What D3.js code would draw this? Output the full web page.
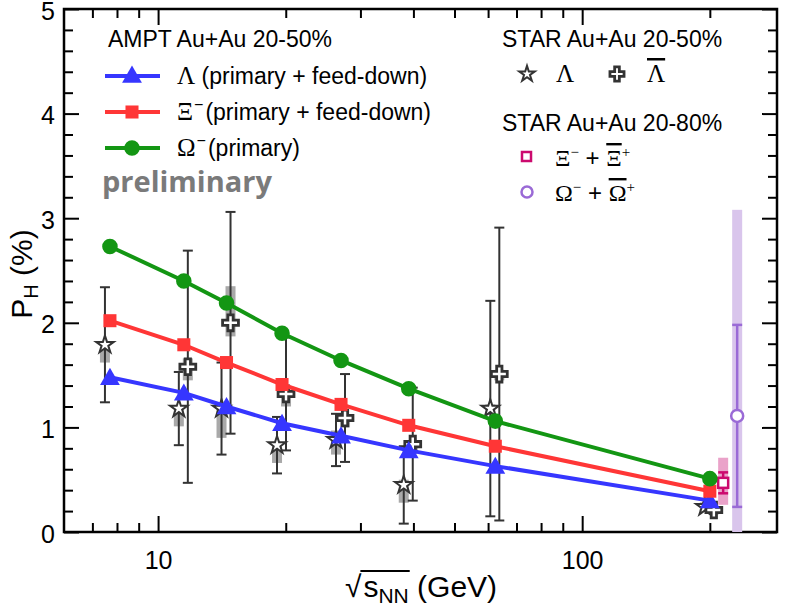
<!DOCTYPE html>
<html>
<head>
<meta charset="utf-8">
<script src="https://cdn.jsdelivr.net/npm/d3@7"></script>
<style>
  body { margin: 0; background: #fff; }
  svg text { font-family: "Liberation Sans", Arial, sans-serif; }
  .serif { font-family: "Liberation Serif", "DejaVu Serif", serif; }
</style>
</head>
<body>
<script>
// collision energies (GeV)
var energies = [7.7, 11.5, 14.5, 19.6, 27, 39, 62.4, 200];

// AMPT Au+Au 20-50%
var amptLambda = [1.48, 1.33, 1.20, 1.04, 0.92, 0.78, 0.63, 0.30];
var amptXi     = [2.02, 1.79, 1.62, 1.41, 1.22, 1.02, 0.82, 0.39];
var amptOmega  = [2.73, 2.40, 2.19, 1.90, 1.64, 1.37, 1.06, 0.51];

// STAR Au+Au 20-50% Lambda
var starLamE    = [7.7, 11.5, 14.5, 19.6, 27, 39, 62.4, 200];
var starLam     = [1.79, 1.18, 1.18, 0.83, 0.88, 0.45, 1.18, 0.24];
var starLamStat = [0.55, 0.35, 0.44, 0.27, 0.25, 0.37, 1.03, 0.03];
var starLamSysLo = [1.62, 1.01, 0.90, 0.66, 0.74, 0.28, 1.12, 0.22];
var starLamSysHi = [1.77, 1.17, 1.17, 0.85, 0.97, 0.50, 1.22, 0.26];

// STAR Au+Au 20-50% anti-Lambda
var starALamE    = [11.5, 14.5, 19.6, 27, 39, 62.4, 200];
var starALam     = [1.58, 2.00, 1.32, 1.09, 0.84, 1.51, 0.21];
var starALamStat = [1.11, 1.06, 0.54, 0.42, 0.54, 1.40, 0.03];
var starALamSysLo = [1.45, 1.87, 1.20, 1.00, 0.78, 1.45, 0.19];
var starALamSysHi = [1.66, 2.35, 1.34, 1.12, 0.86, 1.55, 0.23];

// STAR Au+Au 20-80% Xi and Omega (drawn slightly offset from 200 GeV)
var starXi = { e: 215, v: 0.47, stat: 0.10, sysLo: 0.26, sysHi: 0.71 };
var starOm = { e: 232, v: 1.11, stat: 0.87, sysLo: 0.0, sysHi: 3.08 };

var majorX = [10, 100];
var minorX = [7, 8, 9, 20, 30, 40, 50, 60, 70, 80, 90, 200];
var majorY = [0, 1, 2, 3, 4, 5];
var minorY = d3.range(0.2, 5, 0.2).filter(function (v) { return Math.abs(v - Math.round(v)) > 0.01; });

var W = 789, H = 607;
var plot = { left: 64, right: 777, top: 9, bottom: 532 };

var blue = "#3636ff", red = "#ff3636", green = "#139613", ink = "#333";

var svg = d3.select("body").append("svg")
    .attr("width", W)
    .attr("height", H);

var x = d3.scaleLog().domain([6, 288]).range([plot.left, plot.right]);
var y = d3.scaleLinear().domain([0, 5]).range([plot.bottom, plot.top]);

svg.append("clipPath").attr("id", "clip")
    .append("rect")
    .attr("x", plot.left).attr("y", plot.top)
    .attr("width", plot.right - plot.left)
    .attr("height", plot.bottom - plot.top);

// axes, ticks pointing inwards
function axisGroup(axis, tx, ty) {
    var g = svg.append("g")
        .attr("transform", "translate(" + tx + "," + ty + ")")
        .call(axis);
    g.select(".domain").remove();
    g.selectAll("line").attr("stroke", "#000").attr("stroke-width", 2);
    g.selectAll("text").attr("font-size", 25).attr("fill", "#000")
        .style("font-family", "'Liberation Sans', Arial, sans-serif");
    return g;
}
var fmt = function (d) { return d; };
axisGroup(d3.axisBottom(x).tickValues(majorX).tickSize(-16).tickPadding(19).tickFormat(fmt), 0, plot.bottom);
axisGroup(d3.axisBottom(x).tickValues(minorX).tickSize(-9).tickFormat(""), 0, plot.bottom);
axisGroup(d3.axisTop(x).tickValues(majorX).tickSize(-16).tickFormat(""), 0, plot.top);
axisGroup(d3.axisTop(x).tickValues(minorX).tickSize(-9).tickFormat(""), 0, plot.top);
axisGroup(d3.axisLeft(y).tickValues(majorY).tickSize(-15).tickPadding(9).tickFormat(fmt), plot.left, 0)
    .selectAll("text").attr("dy", "0.40em");
axisGroup(d3.axisLeft(y).tickValues(minorY).tickSize(-9).tickFormat(""), plot.left, 0);
axisGroup(d3.axisRight(y).tickValues(majorY).tickSize(-15).tickFormat(""), plot.right, 0);
axisGroup(d3.axisRight(y).tickValues(minorY).tickSize(-9).tickFormat(""), plot.right, 0);

svg.append("rect")
    .attr("x", plot.left).attr("y", plot.top)
    .attr("width", plot.right - plot.left)
    .attr("height", plot.bottom - plot.top)
    .attr("fill", "none").attr("stroke", "#000").attr("stroke-width", 2.5);

// axis titles
var yt = svg.append("text")
    .attr("transform", "translate(32,274) rotate(-90)")
    .attr("text-anchor", "middle")
    .attr("font-size", 30);
yt.append("tspan").text("P");
yt.append("tspan").attr("font-size", 20).attr("dy", 6).text("H");
yt.append("tspan").attr("dy", -6).text(" (%)");

var xt = svg.append("g").attr("transform", "translate(421,597)");
var xtText = xt.append("text").attr("font-size", 30).attr("text-anchor", "middle");
xtText.append("tspan").text("\u221A");
xtText.append("tspan").attr("dx", 2).text("s");
xtText.append("tspan").attr("font-size", 21).attr("dy", 6).text("NN");
xtText.append("tspan").attr("dy", -6).text(" (GeV)");
// overline of the radical over s_NN
(function () {
    var n = xtText.node();
    var start = n.getStartPositionOfChar(1).x;
    var end = n.getEndPositionOfChar(3).x;
    xt.append("line")
        .attr("x1", start - 3).attr("x2", end + 1)
        .attr("y1", -26).attr("y2", -26)
        .attr("stroke", "#000").attr("stroke-width", 1.8);
})();

var data = svg.append("g").attr("clip-path", "url(#clip)");

// STAR systematic boxes and stat error bars
function starSeries(E, V, S, LO, HI, dx) {
    var pts = E.map(function (e, i) {
        return { e: e, v: V[i], s: S[i], lo: LO[i], hi: HI[i] };
    });
    data.selectAll(null).data(pts).enter().append("rect")
        .attr("x", function (d) { return x(d.e) + dx - 5; })
        .attr("width", 10)
        .attr("y", function (d) { return y(d.hi); })
        .attr("height", function (d) { return y(d.lo) - y(d.hi); })
        .attr("fill", "#8c8c8c").attr("opacity", 0.75);
    var eb = data.selectAll(null).data(pts).enter().append("g")
        .attr("stroke", ink).attr("stroke-width", 2);
    eb.append("line")
        .attr("x1", function (d) { return x(d.e) + dx; })
        .attr("x2", function (d) { return x(d.e) + dx; })
        .attr("y1", function (d) { return y(d.v + d.s); })
        .attr("y2", function (d) { return y(d.v - d.s); });
    [1, -1].forEach(function (k) {
        eb.append("line")
            .attr("x1", function (d) { return x(d.e) + dx - 5; })
            .attr("x2", function (d) { return x(d.e) + dx + 5; })
            .attr("y1", function (d) { return y(d.v + k * d.s); })
            .attr("y2", function (d) { return y(d.v + k * d.s); });
    });
    return pts;
}
var lamPts = starSeries(starLamE, starLam, starLamStat, starLamSysLo, starLamSysHi, -5);
var alamPts = starSeries(starALamE, starALam, starALamStat, starALamSysLo, starALamSysHi, 4);

// Xi and Omega (STAR 20-80%)
function bigPoint(p, col, boxCol) {
    data.append("rect")
        .attr("x", x(p.e) - 5).attr("width", 10)
        .attr("y", y(p.sysHi)).attr("height", y(p.sysLo) - y(p.sysHi))
        .attr("fill", boxCol);
    var g = data.append("g").attr("stroke", col).attr("stroke-width", 2.5);
    g.append("line").attr("x1", x(p.e)).attr("x2", x(p.e))
        .attr("y1", y(p.v + p.stat)).attr("y2", y(p.v - p.stat));
    [1, -1].forEach(function (k) {
        g.append("line").attr("x1", x(p.e) - 5).attr("x2", x(p.e) + 5)
            .attr("y1", y(p.v + k * p.stat)).attr("y2", y(p.v + k * p.stat));
    });
}
bigPoint(starOm, "#9a6ad6", "#d9c5ec");
bigPoint(starXi, "#cc0a6e", "#eaa2c9");

var star = d3.symbol().type(d3.symbolStar).size(95);
var cross = d3.symbol().type(d3.symbolCross).size(140);

data.selectAll(null).data(lamPts).enter().append("path")
    .attr("d", star)
    .attr("transform", function (d) { return "translate(" + (x(d.e) - 5) + "," + y(d.v) + ")"; })
    .attr("fill", "#fff").attr("stroke", ink).attr("stroke-width", 2);
data.selectAll(null).data(alamPts).enter().append("path")
    .attr("d", cross)
    .attr("transform", function (d) { return "translate(" + (x(d.e) + 4) + "," + y(d.v) + ")"; })
    .attr("fill", "#fff").attr("stroke", ink).attr("stroke-width", 2.8);

data.append("rect")
    .attr("x", x(starXi.e) - 5).attr("y", y(starXi.v) - 5)
    .attr("width", 10).attr("height", 10)
    .attr("fill", "#fff").attr("stroke", "#cc0a6e").attr("stroke-width", 2.5);
data.append("circle")
    .attr("cx", x(starOm.e)).attr("cy", y(starOm.v)).attr("r", 6)
    .attr("fill", "#fff").attr("stroke", "#9a6ad6").attr("stroke-width", 2.5);

// AMPT curves
var line = d3.line()
    .x(function (d) { return x(d.e); })
    .y(function (d) { return y(d.v); });

var tri = d3.symbol().type(d3.symbolTriangle).size(170);
var sq = d3.symbol().type(d3.symbolSquare).size(170);
var circ = d3.symbol().type(d3.symbolCircle).size(190);

var ampt = [
    { vals: amptLambda, color: blue, sym: tri },
    { vals: amptXi, color: red, sym: sq },
    { vals: amptOmega, color: green, sym: circ }
];
ampt.forEach(function (s) {
    var pts = energies.map(function (e, i) { return { e: e, v: s.vals[i] }; });
    data.append("path")
        .datum(pts)
        .attr("d", line)
        .attr("fill", "none")
        .attr("stroke", s.color)
        .attr("stroke-width", 4);
    data.selectAll(null).data(pts).enter().append("path")
        .attr("d", s.sym)
        .attr("transform", function (d) { return "translate(" + x(d.e) + "," + (y(d.v) + (s.sym === tri ? 2 : 0)) + ")"; })
        .attr("fill", s.color);
});

// legend - AMPT
var legL = svg.append("g").attr("font-size", 23);
legL.append("text").attr("x", 108).attr("y", 47).text("AMPT Au+Au 20-50%");

var legRows = [
    { y: 76, color: blue, sym: tri, greek: "\u039B", sup: "", rest: " (primary + feed-down)" },
    { y: 112, color: red, sym: sq, greek: "\u039E", sup: "\u2212", rest: "(primary + feed-down)" },
    { y: 148, color: green, sym: circ, greek: "\u03A9", sup: "\u2212", rest: "(primary)" }
];
legRows.forEach(function (r) {
    legL.append("line").attr("x1", 105).attr("x2", 160).attr("y1", r.y).attr("y2", r.y)
        .attr("stroke", r.color).attr("stroke-width", 4);
    legL.append("path").attr("d", r.sym)
        .attr("transform", "translate(132," + (r.y + (r.sym === tri ? 1 : 0)) + ")")
        .attr("fill", r.color);
    var t = legL.append("text").attr("x", 177).attr("y", r.y + 8);
    t.append("tspan").attr("class", "serif").attr("font-size", 25).text(r.greek);
    if (r.sup) t.append("tspan").attr("font-size", 16).attr("dy", -10).attr("dx", 1).text(r.sup);
    t.append("tspan").attr("dy", r.sup ? 10 : 0).attr("dx", r.sup ? 2 : 0).text(r.rest);
});

svg.append("text")
    .attr("x", 102).attr("y", 192)
    .attr("font-size", 29)
    .attr("font-weight", "bold")
    .attr("fill", "#7a7a7a")
    .style("font-family", "'Open Sans', 'Noto Sans', sans-serif")
    .text("preliminary");

// legend - STAR
var legR = svg.append("g").attr("font-size", 23);
legR.append("text").attr("x", 502).attr("y", 47).text("STAR Au+Au 20-50%");
legR.append("path").attr("d", d3.symbol().type(d3.symbolStar).size(75))
    .attr("transform", "translate(527,74)")
    .attr("fill", "#fff").attr("stroke", ink).attr("stroke-width", 2);
legR.append("text").attr("class", "serif").attr("x", 556).attr("y", 82).attr("font-size", 25).text("\u039B");
legR.append("path").attr("d", d3.symbol().type(d3.symbolCross).size(110))
    .attr("transform", "translate(617,74)")
    .attr("fill", "#fff").attr("stroke", ink).attr("stroke-width", 2.8);
legR.append("text").attr("class", "serif").attr("x", 647).attr("y", 82).attr("font-size", 25)
    .style("text-decoration", "overline").text("\u039B");

legR.append("text").attr("x", 502).attr("y", 131).text("STAR Au+Au 20-80%");
legR.append("rect").attr("x", 522).attr("y", 152).attr("width", 9).attr("height", 9)
    .attr("fill", "#fff").attr("stroke", "#cc0a6e").attr("stroke-width", 2.5);
legR.append("circle").attr("cx", 527).attr("cy", 192).attr("r", 5.5)
    .attr("fill", "#fff").attr("stroke", "#9a6ad6").attr("stroke-width", 2.5);

function pairLabel(yb, g1) {
    var t = legR.append("text").attr("class", "serif").attr("x", 555).attr("y", yb).attr("font-size", 24);
    t.append("tspan").text(g1);
    t.append("tspan").attr("font-size", 15).attr("dy", -9).text("\u2212");
    t.append("tspan").attr("dy", 9).style("font-family", "'Liberation Sans', Arial, sans-serif").text(" + ");
    t.append("tspan").style("text-decoration", "overline").text(g1);
    t.append("tspan").attr("font-size", 15).attr("dy", -9).text("+");
}
pairLabel(166, "\u039E");
pairLabel(201, "\u03A9");
</script>
</body>
</html>
